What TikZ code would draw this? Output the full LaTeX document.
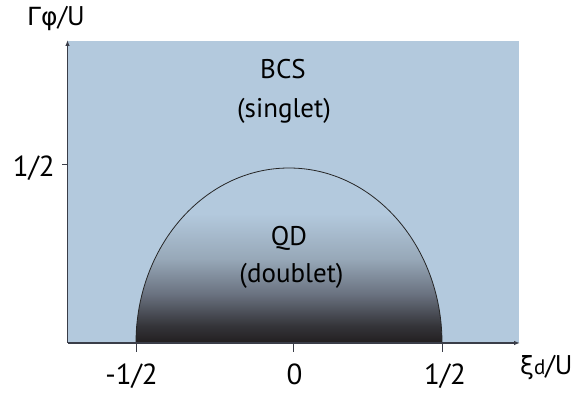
\documentclass[tikz,border=0pt]{standalone}
\usepackage{fontspec}
\setmainfont{PT Sans}
\newfontfamily\grk{DejaVu Sans}
\usetikzlibrary{arrows.meta}

\definecolor{bgblue}{HTML}{B3C9DD}
\definecolor{qddark}{HTML}{221E20}
\definecolor{qdcA}{HTML}{35353A}
\definecolor{qdcB}{HTML}{6A7280}
\definecolor{qdcC}{HTML}{97A8B8}
\definecolor{axisgray}{HTML}{3A3D48}

% vertical blend of the doublet region: dark at the bottom, blue above
\pgfdeclareverticalshading{qdshade}{100bp}{%
  color(0bp)=(qddark); color(25bp)=(qddark); color(30bp)=(qdcA);
  color(39bp)=(qdcB); color(49bp)=(qdcC); color(62bp)=(bgblue);
  color(100bp)=(bgblue)}

\tikzset{
  axisline/.style={draw=axisgray, line width=1.1pt},
  axisarrow/.style={axisline, -{Latex[length=6pt,width=4.5pt]}},
  tickline/.style={draw=axisgray, line width=1pt},
  ticklabel/.style={font=\fontsize{29}{32}\selectfont, inner sep=0pt, text=black},
  regionlabel/.style={font=\fontsize{27}{30}\selectfont, inner sep=0pt, text=black},
  axislabel/.style={font=\fontsize{27}{30}\selectfont, inner sep=0pt, text=black},
}

\begin{document}
\begin{tikzpicture}[x=1pt,y=1pt]
  \useasboundingbox (0,0) rectangle (582,394);

  % BCS background
  \fill[bgblue] (67.5,51) rectangle (519,353);

  % QD half-ellipse with its shading and outline
  \shade[shading=qdshade] (136,51) arc[start angle=180, end angle=0, x radius=153, y radius=175] -- cycle;
  \draw[black!85, line width=0.8pt] (136,51) arc[start angle=180, end angle=0, x radius=153, y radius=175];

  % axes
  \coordinate (origin) at (67.5,51);
  \coordinate (ytop) at (67.5,354);
  \coordinate (xend) at (520,51);
  \draw[axisarrow] (origin) -- (ytop);
  \draw[axisarrow] (origin) -- (xend);

  % ticks
  \coordinate (ytA) at (62,229);
  \coordinate (ytB) at (67.5,229);
  \draw[tickline] (ytA) -- (ytB);
  \foreach \name/\xx in {tm/136, tz/293, tp/442} {
    \coordinate (\name a) at (\xx,51);
    \coordinate (\name b) at (\xx,42);
    \draw[tickline] (\name a) -- (\name b);
  }

  % tick labels
  \node[ticklabel, anchor=base east] (lhalf) at (55,217) {1/2};
  \node[ticklabel, anchor=base east] (mhalf) at (158,9) {-1/2};
  \node[ticklabel, anchor=base] (zero) at (294.5,9) {0};
  \node[ticklabel, anchor=base] (phalf) at (445,9) {1/2};

  % axis labels
  \node[axislabel, anchor=base west] (ylab) at (27,368) {{\grk\fontsize{25}{28}\selectfont Γφ}/U};
  \node[axislabel, anchor=base west] (xlab) at (520,19) {{\grk\fontsize{25}{28}\selectfont ξ}{\fontsize{21}{24}\selectfont d}/U};

  % region labels
  \node[regionlabel, anchor=base] (bcs) at (283,315) {BCS};
  \node[regionlabel, anchor=base] (singlet) at (284,276) {(singlet)};
  \node[regionlabel, anchor=base] (qd) at (289,148) {QD};
  \node[regionlabel, anchor=base] (doublet) at (291.5,111) {(doublet)};
\end{tikzpicture}
\end{document}
